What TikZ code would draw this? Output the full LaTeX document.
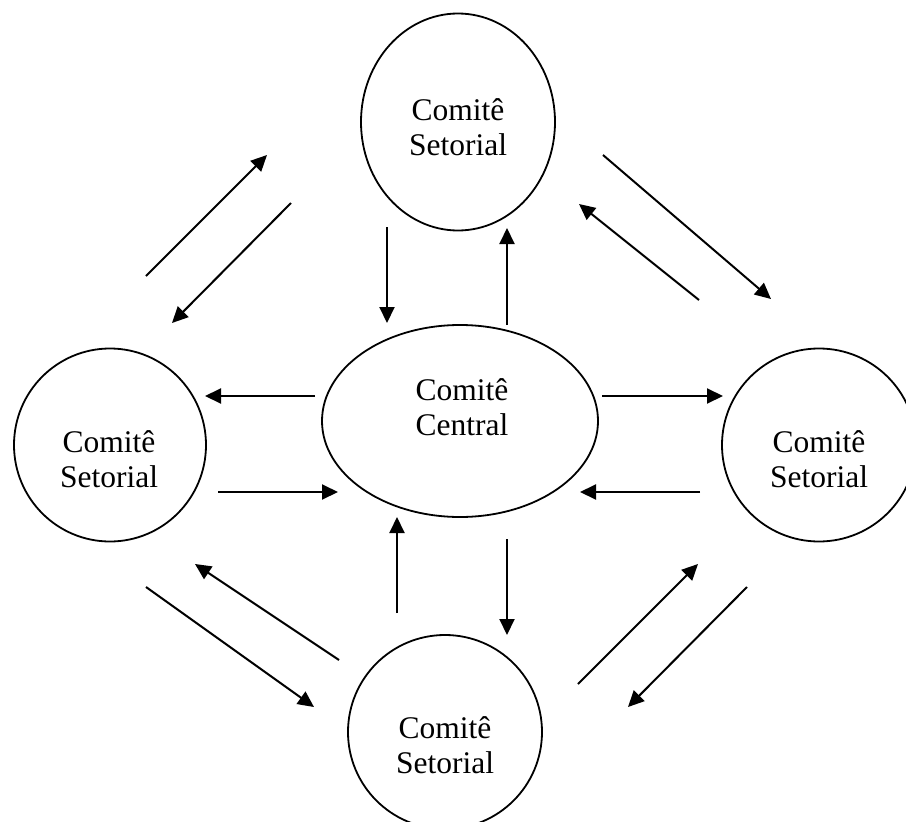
\documentclass[tikz,border=0pt]{standalone}
\usepackage{fontspec}
\setmainfont{Liberation Serif}
\usetikzlibrary{arrows.meta}
\usetikzlibrary{shapes.geometric}

\begin{document}
\begin{tikzpicture}[x=1pt,y=-1pt,
      comite/.style={ellipse,draw=black,line width=1.8pt,inner sep=0pt},
      rotulo/.style={align=center,font=\fontsize{31.5}{35}\selectfont},
      flecha/.style={line width=2pt,-{Triangle[length=16pt,width=15pt]}}]
      \useasboundingbox (0,0) rectangle (906,822);
      \clip (0,0) rectangle (906,822);

      \node[comite,minimum width=194pt,minimum height=217pt] (topo) at (458,122) {};
      \node[comite,minimum width=276pt,minimum height=192pt] (central) at (460,421) {};
      \node[comite,minimum width=192pt,minimum height=193pt] (esq) at (110,445) {};
      \node[comite,minimum width=194pt,minimum height=193pt] (dir) at (819,445) {};
      \node[comite,minimum width=194pt,minimum height=194pt] (baixo) at (445,732) {};

      \node[rotulo] (topoTxt) at (458,127) {Comitê\\Setorial};
      \node[rotulo] (centralTxt) at (462,407) {Comitê\\Central};
      \node[rotulo] (esqTxt) at (109,459) {Comitê\\Setorial};
      \node[rotulo] (dirTxt) at (819,459) {Comitê\\Setorial};
      \node[rotulo] (baixoTxt) at (445,745) {Comitê\\Setorial};

      \foreach \i/\xa/\ya/\xb/\yb in {1/146/276/267/155, 2/291/203/172/323,
                                      3/603/155/771/299, 4/699/300/579/204,
                                      5/315/396/205/396, 6/218/492/338/492,
                                      7/602/396/723/396, 8/700/492/580/492,
                                      9/387/227/387/323, 10/507/325/507/228,
                                      11/397/613/397/517, 12/507/539/507/635,
                                      13/146/587/314/707, 14/339/660/195/564,
                                      15/578/684/698/564, 16/747/587/628/707} {
        \coordinate (ini\i) at (\xa,\ya);
        \coordinate (fim\i) at (\xb,\yb);
        \draw[flecha] (ini\i) -- (fim\i);
      }
    \end{tikzpicture}
\end{document}
